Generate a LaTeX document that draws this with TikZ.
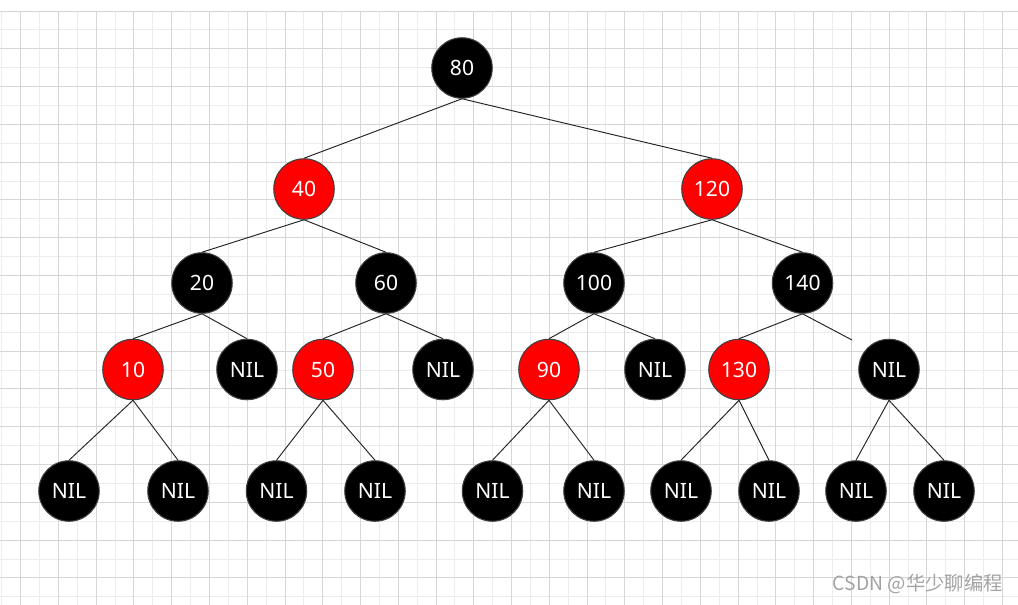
\documentclass[tikz,border=0pt]{standalone}
\usepackage{fontspec}
\setmainfont{Noto Sans}
\newfontfamily\cjk{Noto Sans CJK SC}
\usepackage{tikz}
\usetikzlibrary{positioning}
\definecolor{gridmajor}{HTML}{D6D6D6}
\definecolor{gridminor}{HTML}{ECECEC}
\definecolor{rbred}{HTML}{FF0000}
\definecolor{wmgray}{HTML}{A3A3A3}

\begin{document}
\begin{tikzpicture}[x=0.02cm, y=-0.02cm]
  \tikzstyle{treenode}=[circle, minimum size=1.21cm, inner sep=0pt,
    draw=black!75, line width=0.6pt, text=white,
    font=\fontsize{12}{14}\selectfont]
  \tikzstyle{rednode}=[treenode, fill=rbred]
  \tikzstyle{blacknode}=[treenode, fill=black]
  \tikzstyle{link}=[line width=0.55pt, color=black!85]
  \tikzstyle{gridline}=[line width=0.02cm]
  \useasboundingbox (0,0) rectangle (1018,605);
  % grid, snapped to whole pixels
  \foreach \i [evaluate=\i as \gx using {floor(1.8+18.88*\i)+0.5}] in {0,2,...,52}
    \draw[gridline, gridminor] (\gx,11) -- (\gx,605);
  \foreach \j [evaluate=\j as \gy using {floor(11+18.9*\j)+0.5}] in {1,3,...,31}
    \draw[gridline, gridminor] (0,\gy) -- (1018,\gy);
  \foreach \i [evaluate=\i as \gx using {floor(1.8+18.88*\i)+0.5}] in {1,3,...,53}
    \draw[gridline, gridmajor] (\gx,11) -- (\gx,605);
  \foreach \j [evaluate=\j as \gy using {floor(11+18.9*\j)+0.5}] in {0,2,...,30}
    \draw[gridline, gridmajor] (0,\gy) -- (1018,\gy);
  % tree
  \node[blacknode] (n80) at (462,68) {80};
  \node[rednode] (n40) at (304,189) {40};
  \node[rednode] (n120) at (712,189) {120};
  \node[blacknode] (n20) at (202,283) {20};
  \node[blacknode] (n60) at (386,283) {60};
  \node[blacknode] (n100) at (594,283) {100};
  \node[blacknode] (n140) at (802.5,283) {140};
  \node[rednode] (n10) at (133,369.5) {10};
  \node[blacknode] (nil20) at (247,369.5) {NIL};
  \node[rednode] (n50) at (323,369.5) {50};
  \node[blacknode] (nil60) at (443,369.5) {NIL};
  \node[rednode] (n90) at (549,369.5) {90};
  \node[blacknode] (nil100) at (655,369.5) {NIL};
  \node[rednode] (n130) at (739,369.5) {130};
  \node[blacknode] (nil140) at (889,369.5) {NIL};
  \node[blacknode] (nil10a) at (69,491) {NIL};
  \node[blacknode] (nil10b) at (178,491) {NIL};
  \node[blacknode] (nil50a) at (276.5,491) {NIL};
  \node[blacknode] (nil50b) at (375,491) {NIL};
  \node[blacknode] (nil90a) at (492.5,491) {NIL};
  \node[blacknode] (nil90b) at (594,491) {NIL};
  \node[blacknode] (nil130a) at (681,491) {NIL};
  \node[blacknode] (nil130b) at (769,491) {NIL};
  \node[blacknode] (nilxa) at (856,491) {NIL};
  \node[blacknode] (nilxb) at (944,491) {NIL};
  \coordinate (end140) at (852,340);
  \draw[link] (n80.south) -- (n40.north);
  \draw[link] (n80.south) -- (n120.north);
  \draw[link] (n40.south) -- (n20.north);
  \draw[link] (n40.south) -- (n60.north);
  \draw[link] (n120.south) -- (n100.north);
  \draw[link] (n120.south) -- (n140.north);
  \draw[link] (n20.south) -- (n10.north);
  \draw[link] (n20.south) -- (nil20.north);
  \draw[link] (n60.south) -- (n50.north);
  \draw[link] (n60.south) -- (nil60.north);
  \draw[link] (n100.south) -- (n90.north);
  \draw[link] (n100.south) -- (nil100.north);
  \draw[link] (n140.south) -- (n130.north);
  \draw[link] (n140.south) -- (end140);
  \draw[link] (n10.south) -- (nil10a.north);
  \draw[link] (n10.south) -- (nil10b.north);
  \draw[link] (n50.south) -- (nil50a.north);
  \draw[link] (n50.south) -- (nil50b.north);
  \draw[link] (n90.south) -- (nil90a.north);
  \draw[link] (n90.south) -- (nil90b.north);
  \draw[link] (n130.south) -- (nil130a.north);
  \draw[link] (n130.south) -- (nil130b.north);
  \draw[link] (nil140.south) -- (nilxa.north);
  \draw[link] (nil140.south) -- (nilxb.north);
  % watermark
  \node[anchor=east, inner sep=0pt, text=wmgray, font=\cjk\fontsize{11}{13}\selectfont]
    (mark) at (1003,584) {CSDN @华少聊编程};
\end{tikzpicture}
\end{document}
